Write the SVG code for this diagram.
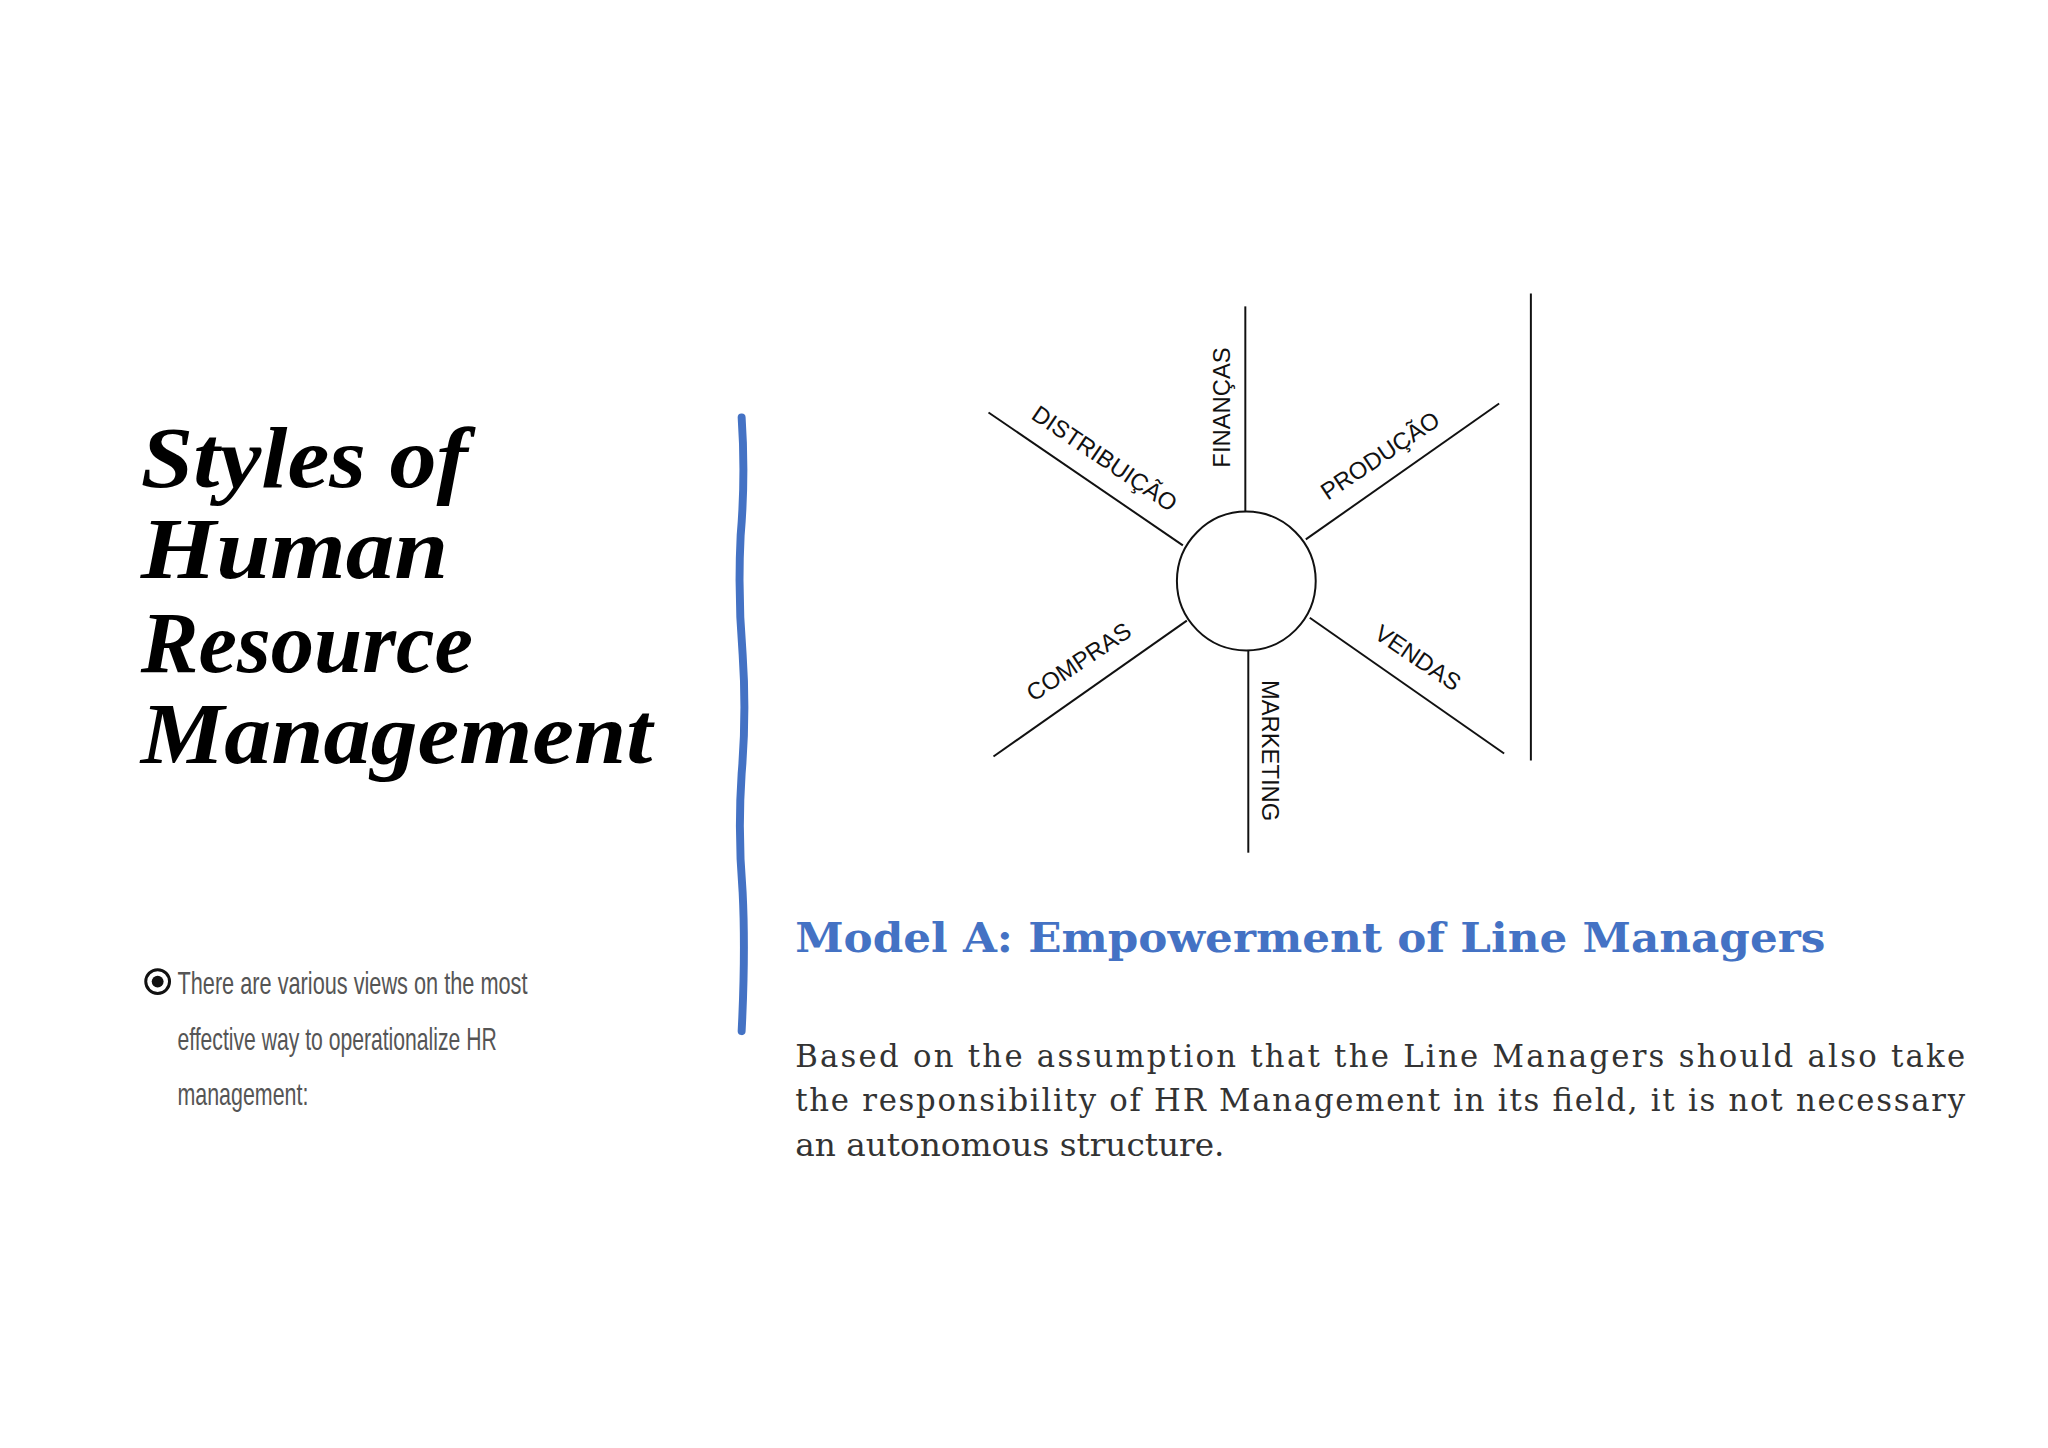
<svg xmlns="http://www.w3.org/2000/svg" width="2048" height="1448" viewBox="0 0 2048 1448">
<style>
.ln{stroke:#111;stroke-width:2;fill:none}
.lb{font-family:"Liberation Sans",Arial,sans-serif;font-size:24px;fill:#111;text-anchor:middle;dominant-baseline:middle}
.ttl{font-family:"Liberation Serif",serif;font-weight:bold;font-style:italic;font-size:88px;fill:#000}
.bul{font-family:"Liberation Sans",sans-serif;font-size:32px;fill:#555;font-weight:300}
.body{font-family:"DejaVu Serif",serif;font-size:31px;fill:#333}
</style>
<rect width="2048" height="1448" fill="#fff"/>
<g transform="scale(0.9915)">
<g id="title">
<text class="ttl" x="142" y="491" textLength="330" lengthAdjust="spacingAndGlyphs">Styles of</text>
<text class="ttl" x="142" y="583" textLength="310" lengthAdjust="spacingAndGlyphs">Human</text>
<text class="ttl" x="142" y="678" textLength="335" lengthAdjust="spacingAndGlyphs">Resource</text>
<text class="ttl" x="142" y="770" textLength="516" lengthAdjust="spacingAndGlyphs">Management</text>
</g>
<g id="bullet">
<circle cx="159" cy="990" r="12" fill="none" stroke="#111" stroke-width="3"/>
<circle cx="159" cy="990" r="6" fill="#111"/>
<text class="bul" x="179" y="1003" textLength="353" lengthAdjust="spacingAndGlyphs">There are various views on the most</text>
<text class="bul" x="179" y="1059" textLength="322" lengthAdjust="spacingAndGlyphs">effective way to operationalize HR</text>
<text class="bul" x="179" y="1114" textLength="132" lengthAdjust="spacingAndGlyphs">management:</text>
</g>
<path id="divider" d="M748 421 Q752 480 747 540 Q744 600 749 660 Q753 720 748 780 Q744 840 749 900 Q752 960 748 1040" stroke="#4472C4" stroke-width="8" fill="none" stroke-linecap="round"/>
<g id="connectors">
<line class="ln" x1="1256" y1="309" x2="1256" y2="516"/>
<line class="ln" x1="1259" y1="656" x2="1259" y2="860"/>
<line class="ln" x1="997" y1="416" x2="1193" y2="550"/>
<line class="ln" x1="1512" y1="407" x2="1317" y2="544"/>
<line class="ln" x1="1002" y1="763" x2="1197" y2="626"/>
<line class="ln" x1="1517" y1="760" x2="1321" y2="623"/>
<line class="ln" x1="1544" y1="296" x2="1544" y2="767"/>
</g>
<g id="hub"><circle cx="1257" cy="586" r="70" class="ln" fill="#fff"/></g>
<g id="labels">
<text class="lb" transform="translate(1234,411) rotate(-90)">FINANÇAS</text>
<text class="lb" transform="translate(1279,757) rotate(90)">MARKETING</text>
<text class="lb" transform="translate(1113,464) rotate(34)">DISTRIBUIÇÃO</text>
<text class="lb" transform="translate(1393,461) rotate(-34)">PRODUÇÃO</text>
<text class="lb" transform="translate(1089,669) rotate(-34)">COMPRAS</text>
<text class="lb" transform="translate(1429,665) rotate(34)">VENDAS</text>
</g>
<g id="text">
<text x="802" y="960" font-family="'DejaVu Serif',serif" font-weight="bold" font-size="42" fill="#4472C4" textLength="1039" lengthAdjust="spacingAndGlyphs">Model A: Empowerment of Line Managers</text>
<text class="body" x="802" y="1076" textLength="1180" lengthAdjust="spacing">Based on the assumption that the Line Managers should also take</text>
<text class="body" x="802" y="1121" textLength="1180" lengthAdjust="spacing">the responsibility of HR Management in its field, it is not necessary</text>
<text class="body" x="802" y="1166" textLength="433" lengthAdjust="spacingAndGlyphs">an autonomous structure.</text>
</g>
</g>
</svg>
